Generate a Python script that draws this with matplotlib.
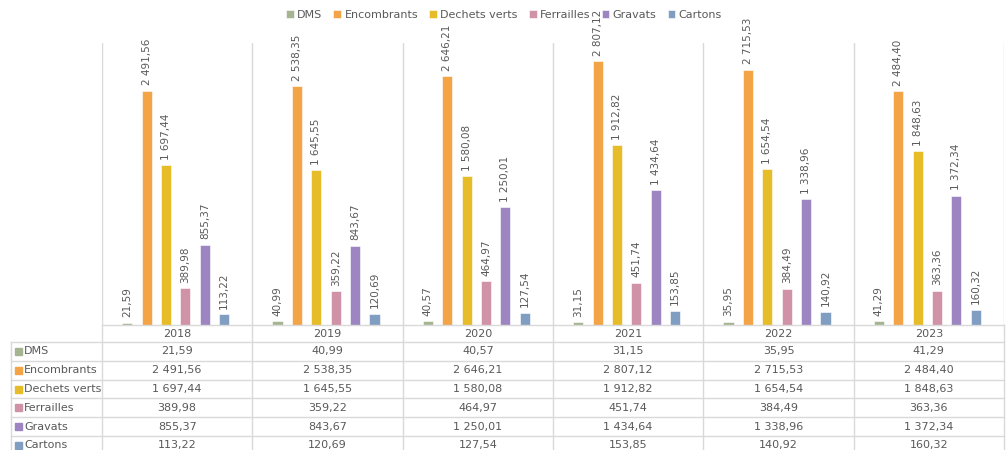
import matplotlib
matplotlib.use("Agg")
import matplotlib.pyplot as plt
from matplotlib.patches import Rectangle

years = ["2018", "2019", "2020", "2021", "2022", "2023"]
series = ["DMS", "Encombrants", "Dechets verts", "Ferrailles", "Gravats", "Cartons"]
dms = [21.59, 40.99, 40.57, 31.15, 35.95, 41.29]
encombrants = [2491.56, 2538.35, 2646.21, 2807.12, 2715.53, 2484.40]
dechets_verts = [1697.44, 1645.55, 1580.08, 1912.82, 1654.54, 1848.63]
ferrailles = [389.98, 359.22, 464.97, 451.74, 384.49, 363.36]
gravats = [855.37, 843.67, 1250.01, 1434.64, 1338.96, 1372.34]
cartons = [113.22, 120.69, 127.54, 153.85, 140.92, 160.32]
values = [dms, encombrants, dechets_verts, ferrailles, gravats, cartons]
colors = ["#A5B592", "#F3A447", "#E7BC29", "#D092A7", "#9C85C0", "#809EC2"]

TXT = "#595959"
GRID = "#D9D9D9"


def fmt(v):
    s = "{:,.2f}".format(v)
    return s.replace(",", " ").replace(".", ",")


W, H = 1008, 450
fig = plt.figure(figsize=(W / 100, H / 100), dpi=100)
plt.rcParams['font.family'] = ['DejaVu Sans']

# layout in pixels
x0, x1 = 102, 1004
ytop, ybase = 43, 325
ax = fig.add_axes([x0 / W, 1 - ybase / H, (x1 - x0) / W, (ybase - ytop) / H])
ax.set_xlim(-0.5, len(years) - 0.5)
ax.set_ylim(0, 3000)
ax.axis("off")

step = 0.129
bw = 0.067
n = len(series)
for i, (name, vals, c) in enumerate(zip(series, values, colors)):
    xs = [k + (i - (n - 1) / 2) * step - 0.01 for k in range(len(years))]
    ax.bar(xs, vals, width=bw, color=c, label=name, edgecolor="white", linewidth=0.4)
    for x, v in zip(xs, vals):
        ax.annotate(fmt(v), (x, v), xytext=(0, 4), textcoords="offset points",
                    rotation=90, ha="center", va="bottom", fontsize=7.5, color=TXT)

for k in range(len(years) + 1):
    ax.axvline(k - 0.5, color=GRID, lw=1, zorder=0)

# data table drawn on an overlay in pixel coords
tab = fig.add_axes([0, 0, 1, 1])
tab.set_xlim(0, W)
tab.set_ylim(H, 0)
tab.axis("off")
colw = (x1 - x0) / len(years)
head_bot = 342
rowh = 18.8
left = 11
tab.plot([x0, x1], [ybase, ybase], color=GRID, lw=1)
for k in range(len(years) + 1):
    tab.plot([x0 + k * colw] * 2, [ybase, H], color=GRID, lw=1)
tab.plot([left, left], [head_bot, H], color=GRID, lw=1)
for r in range(len(series) + 1):
    y = head_bot + r * rowh
    tab.plot([left, x1], [y, y], color=GRID, lw=1)
for k, yr in enumerate(years):
    tab.text(x0 + (k + 0.5) * colw, (ybase + head_bot) / 2 + 0.5, yr, ha="center", va="center",
             fontsize=8, color=TXT)
for r, (name, vals, c) in enumerate(zip(series, values, colors)):
    yc = head_bot + (r + 0.5) * rowh
    tab.add_patch(Rectangle((left + 4, yc - 3.5), 7, 7, color=c))
    tab.text(left + 13, yc, name, ha="left", va="center", fontsize=8, color=TXT)
    for k, v in enumerate(vals):
        tab.text(x0 + (k + 0.5) * colw, yc, fmt(v), ha="center", va="center",
                 fontsize=8, color=TXT)

leg = fig.legend(*ax.get_legend_handles_labels(), loc="upper center", ncol=6,
                 bbox_to_anchor=(0.5, 1.0), frameon=False, fontsize=8,
                 handlelength=0.7, handleheight=0.7, handletextpad=0.3, columnspacing=1.0)
for t in leg.get_texts():
    t.set_color(TXT)

fig.savefig("out.png", dpi=100)
